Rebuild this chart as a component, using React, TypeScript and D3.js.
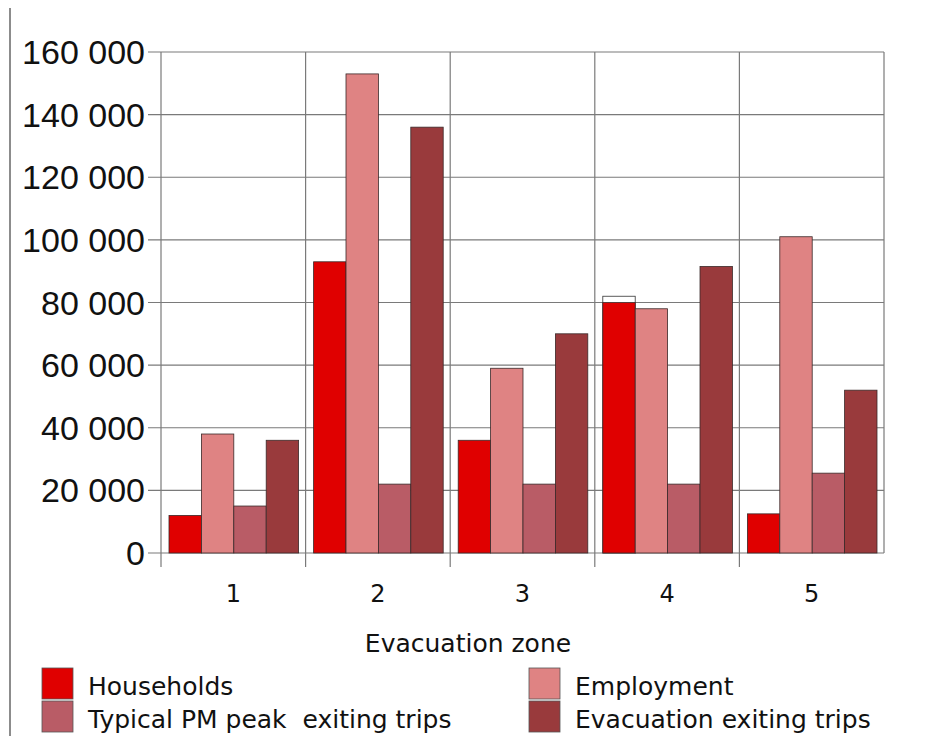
import React from "react";
import * as d3 from "d3";

const zones = ["1", "2", "3", "4", "5"];
const seriesNames = ["Households", "Employment", "Typical PM peak  exiting trips", "Evacuation exiting trips"];
const households = [12000, 93000, 36000, 80000, 12500];
const employment = [38000, 153000, 59000, 78000, 101000];
const typicalPm = [15000, 22000, 22000, 22000, 25500];
const evacuation = [36000, 136000, 70000, 91500, 52000];
const householdsOutline = [0, 0, 0, 82000, 0];
const yTicks = [0, 20000, 40000, 60000, 80000, 100000, 120000, 140000, 160000];
const colors = ["#e00000", "#df8383", "#b95c66", "#993a3c"];

const W = 934;
const H = 736;
const left = 161;
const right = 884;
const top = 52;
const bottom = 553;
const numFont = "'Liberation Sans', Arial, sans-serif";
const labelFont = "'DejaVu Sans', sans-serif";

export default function App() {
  const values = [households, employment, typicalPm, evacuation];
  const x = d3.scaleBand<string>().domain(zones).range([left, right]).padding(0);
  const inner = d3
    .scaleBand<number>()
    .domain([0, 1, 2, 3])
    .range([8, x.bandwidth() - 7])
    .padding(0);
  const y = d3.scaleLinear().domain([0, 160000]).range([bottom, top]);
  const fmt = (v: number) => d3.format(",")(v).replace(/,/g, " ");
  const boundaries = [...zones.map((z) => x(z) as number), right];

  return (
    <svg
      width={W}
      height={H}
      style={{ position: "absolute", left: 0, top: 0, background: "#fff" }}
    >
      <line x1={10} x2={10} y1={8} y2={H} stroke="#666" strokeWidth={1.5} />
      {yTicks.map((t) => (
        <g key={t}>
          <line x1={148} x2={right} y1={y(t)} y2={y(t)} stroke="#7a7a7a" strokeWidth={1.2} />
          <text x={145} y={y(t) + 12} textAnchor="end" fontSize={34} fill="#111" fontFamily={numFont}>
            {fmt(t)}
          </text>
        </g>
      ))}
      {boundaries.map((b, i) => (
        <line
          key={i}
          x1={b}
          x2={b}
          y1={top}
          y2={i === boundaries.length - 1 ? bottom : 567}
          stroke="#7a7a7a"
          strokeWidth={1.2}
        />
      ))}
      {zones.map((z, zi) => (
        <g key={z} transform={`translate(${x(z)},0)`}>
          {householdsOutline[zi] > 0 && (
            <rect
              x={inner(0)}
              y={y(householdsOutline[zi])}
              width={inner.bandwidth()}
              height={bottom - y(householdsOutline[zi])}
              fill="#fff"
              stroke="#333"
              strokeWidth={0.8}
            />
          )}
          {values.map((arr, si) => (
            <rect
              key={si}
              x={inner(si)}
              y={y(arr[zi])}
              width={inner.bandwidth()}
              height={bottom - y(arr[zi])}
              fill={colors[si]}
              stroke="#3a2a2a"
              strokeWidth={0.8}
            />
          ))}
          <text x={x.bandwidth() / 2} y={602} textAnchor="middle" fontSize={24} fill="#111" fontFamily={labelFont}>
            {z}
          </text>
        </g>
      ))}
      <text x={468} y={652} textAnchor="middle" fontSize={25} fill="#111" fontFamily={labelFont}>
        Evacuation zone
      </text>
      {seriesNames.map((name, i) => {
        const lx = i % 2 === 0 ? 42 : 529;
        const ly = i < 2 ? 668 : 701;
        return (
          <g key={name}>
            <rect x={lx} y={ly} width={31} height={31} fill={colors[i]} stroke="#555" strokeWidth={0.8} />
            <text x={lx + 46} y={ly + 27} fontSize={25} fill="#111" fontFamily={labelFont} style={{ whiteSpace: "pre" }}>
              {name}
            </text>
          </g>
        );
      })}
    </svg>
  );
}
